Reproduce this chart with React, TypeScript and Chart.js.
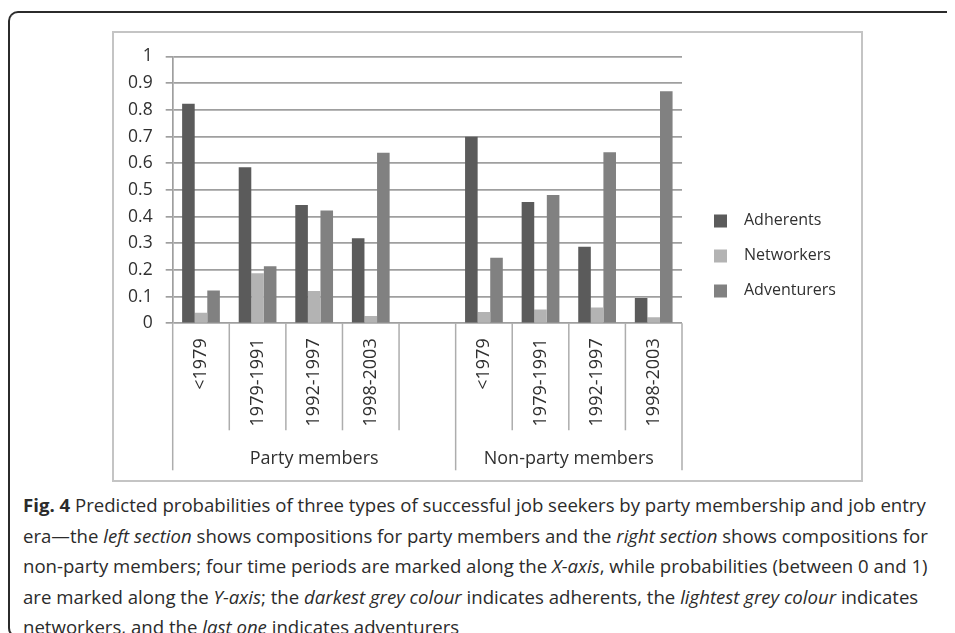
import React, { useEffect, useRef } from 'react';
import { Chart, registerables } from 'chart.js';

Chart.register(...registerables);

// Entry periods shown under each membership group
const periods = ['<1979', '1979-1991', '1992-1997', '1998-2003'];
const groups = ['Party members', 'Non-party members'];

const seriesNames = ['Adherents', 'Networkers', 'Adventurers'];
const seriesColors = ['#5b5b5b', '#b3b3b3', '#818181'];

// Predicted probabilities, party members
const adherentsParty = [0.823, 0.585, 0.443, 0.319];
const networkersParty = [0.04, 0.188, 0.121, 0.027];
const adventurersParty = [0.123, 0.214, 0.423, 0.639];

// Predicted probabilities, non-party members
const adherentsNonParty = [0.699, 0.455, 0.287, 0.095];
const networkersNonParty = [0.042, 0.052, 0.059, 0.023];
const adventurersNonParty = [0.246, 0.481, 0.641, 0.87];

const yTickLabels = ['0', '0.1', '0.2', '0.3', '0.4', '0.5', '0.6', '0.7', '0.8', '0.9', '1'];

// One empty slot separates the two groups
const categoryLabels = [...periods, '', ...periods];
const joinGroups = (a: number[], b: number[]) => [...a, null, ...b];
const groupStarts = [0, periods.length + 1, categoryLabels.length];

const FONT = '"Open Sans", sans-serif';
const TEXT = '#303030';
const AXIS_GREY = '#9f9f9f';

const xAxisDecor = {
  id: 'xAxisDecor',
  afterDraw(chart: any) {
    const x = chart.scales.x;
    const ctx = chart.ctx;
    const n = categoryLabels.length;
    const half = (x.getPixelForValue(1) - x.getPixelForValue(0)) / 2;
    const top = chart.chartArea.bottom;
    const edge = (i: number) =>
      i < n ? x.getPixelForValue(i) - half : x.getPixelForValue(n - 1) + half;

    ctx.save();
    ctx.strokeStyle = '#adadad';
    ctx.lineWidth = 1.5;
    for (let i = 0; i <= n; i++) {
      const long = groupStarts.includes(i);
      const px = edge(i);
      ctx.beginPath();
      ctx.moveTo(px, top);
      ctx.lineTo(px, top + (long ? 147 : 107));
      ctx.stroke();
    }

    ctx.fillStyle = TEXT;
    ctx.font = `18px ${FONT}`;
    ctx.textAlign = 'center';
    ctx.textBaseline = 'middle';
    groups.forEach((g, gi) => {
      const cx = (edge(groupStarts[gi]) + edge(groupStarts[gi + 1])) / 2;
      ctx.fillText(g, cx, top + 136);
    });

    // Legend on the right
    const lx = chart.chartArea.right + 32;
    const midY = chart.height / 2 - 1;
    const step = 35;
    ctx.font = `16px ${FONT}`;
    ctx.textAlign = 'left';
    chart.data.datasets.forEach((ds: any, i: number) => {
      const cy = midY + (i - 1) * step;
      ctx.fillStyle = ds.backgroundColor;
      ctx.fillRect(lx, cy - 6, 13, 13);
      ctx.fillStyle = TEXT;
      ctx.fillText(ds.label, lx + 30, cy);
    });
    ctx.restore();
  },
};

function ProbabilityChart() {
  const canvasRef = useRef<HTMLCanvasElement | null>(null);

  useEffect(() => {
    if (!canvasRef.current) return;
    const seriesData = [
      joinGroups(adherentsParty, adherentsNonParty),
      joinGroups(networkersParty, networkersNonParty),
      joinGroups(adventurersParty, adventurersNonParty),
    ];
    const chart = new Chart(canvasRef.current, {
      type: 'bar',
      data: {
        labels: categoryLabels,
        datasets: seriesNames.map((name, i) => ({
          label: name,
          data: seriesData[i],
          backgroundColor: seriesColors[i],
          borderWidth: 0,
          barPercentage: 1,
          categoryPercentage: 0.667,
        })),
      },
      options: {
        animation: false,
        responsive: true,
        maintainAspectRatio: false,
        layout: { padding: { top: 21, right: 179, bottom: 0, left: 0 } },
        plugins: {
          legend: { display: false },
          tooltip: { enabled: false },
        },
        scales: {
          x: {
            grid: { display: false, drawTicks: false },
            border: { display: false },
            ticks: {
              autoSkip: false,
              minRotation: 90,
              maxRotation: 90,
              padding: 15,
              color: TEXT,
              font: { family: FONT, size: 18 },
            },
            afterFit: (scale: any) => {
              scale.height = 156.7;
            },
          },
          y: {
            min: 0,
            max: 1,
            ticks: {
              stepSize: 0.1,
              padding: 13,
              color: TEXT,
              font: { family: FONT, size: 17.5 },
              callback: (_v: any, i: number) => yTickLabels[i],
            },
            grid: {
              color: AXIS_GREY,
              lineWidth: 1.7,
              tickLength: 7,
            },
            border: { display: true, color: AXIS_GREY, width: 1.7 },
            afterFit: (scale: any) => {
              scale.width = 58.7;
            },
          },
        },
      },
      plugins: [xAxisDecor],
    });
    return () => chart.destroy();
  }, []);

  return (
    <div style={{ position: 'relative', width: 747, height: 447 }}>
      <canvas ref={canvasRef} />
    </div>
  );
}

export default function App() {
  return (
    <div style={{ position: 'relative', width: 1000, height: 625, overflow: 'hidden' }}>
      <style>{'html, body { overflow: hidden; }'}</style>
      {/* figure frame: only the top and left edges fall inside the page */}
      <div
        style={{
          position: 'absolute',
          left: 0,
          top: 3,
          width: 1000,
          height: 627,
          boxSizing: 'border-box',
          borderTop: '2px solid #2b2b2b',
          borderLeft: '2px solid #2b2b2b',
          borderBottom: '2px solid #2b2b2b',
          borderTopLeftRadius: 10,
          borderBottomLeftRadius: 10,
        }}
      />
      <div
        style={{
          position: 'absolute',
          left: 104,
          top: 23,
          width: 751,
          height: 451,
          boxSizing: 'border-box',
          border: '2px solid #c4c4c4',
          background: '#fff',
        }}
      >
        <ProbabilityChart />
      </div>
      <div
        style={{
          position: 'absolute',
          left: 15,
          top: 482,
          fontFamily: FONT,
          fontSize: 18.6,
          lineHeight: '30.5px',
          color: '#2b2b2b',
          whiteSpace: 'nowrap',
        }}
      >
        <b>Fig. 4</b> Predicted probabilities of three types of successful job seekers by party membership and job entry
        <br />
        era—the <i>left section</i> shows compositions for party members and the <i>right section</i> shows compositions for
        <br />
        non-party members; four time periods are marked along the <i>X-axis</i>, while probabilities (between 0 and 1)
        <br />
        are marked along the <i>Y-axis</i>; the <i>darkest grey colour</i> indicates adherents, the <i>lightest grey colour</i> indicates
        <br />
        networkers, and the <i>last one</i> indicates adventurers
      </div>
    </div>
  );
}
